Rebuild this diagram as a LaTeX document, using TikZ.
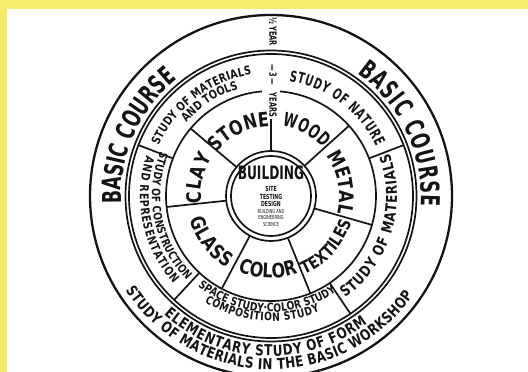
\documentclass[tikz,border=0pt]{standalone}
\usepackage{fontspec}
\usepackage{tikz}
\usetikzlibrary{decorations.text}
\newfontfamily\lettering{DejaVu Sans}[FakeStretch=0.66]
\newfontfamily\letteringwide{DejaVu Sans}[FakeStretch=0.8]
\definecolor{my_yellow}{HTML}{F6EC6C}
\definecolor{my_ink}{HTML}{141414}
\newcommand\fntHuge{\color{my_ink}\lettering\bfseries\fontsize{26}{26}\selectfont}
\newcommand\fntBig{\color{my_ink}\letteringwide\bfseries\fontsize{20}{20}\selectfont}
\newcommand\fntBigish{\color{my_ink}\letteringwide\bfseries\fontsize{17}{17}\selectfont}
\newcommand\fntBigCond{\color{my_ink}\lettering\bfseries\fontsize{19}{19}\selectfont}
\newcommand\fntMid{\color{my_ink}\lettering\bfseries\fontsize{15}{15}\selectfont}
\newcommand\fntMidWide{\color{my_ink}\letteringwide\bfseries\fontsize{15}{15}\selectfont}
\newcommand\fntSmall{\color{my_ink}\letteringwide\bfseries\fontsize{12}{12}\selectfont}
\newcommand\fntSmaller{\color{my_ink}\letteringwide\bfseries\fontsize{11.5}{11.5}\selectfont}
\newcommand\fntAxis{\lettering\bfseries\fontsize{10}{10}\selectfont}
\newcommand\fntBuild{\lettering\bfseries\fontsize{18.5}{18.5}\selectfont}
\newcommand\fntSub{\lettering\bfseries\fontsize{7}{7}\selectfont}
\newcommand\fntFine{\lettering\fontsize{5.5}{5.5}\selectfont}

\begin{document}
\begin{tikzpicture}[x=1pt, y=1pt,
    ringline/.style={draw=my_ink, line width=1.7pt},
    rimline/.style={draw=my_ink, line width=2.3pt},
    arctext/.style={decorate, decoration={text along path,
        text align=fit to path, text={#1}}},
    axislabel/.style={rotate=-90, inner sep=0pt, text=my_ink, font=\fntAxis},
    hublabel/.style={inner sep=0pt, text=my_ink}
]
\useasboundingbox (0,0) rectangle (528,372);

%% ---- Frame ----
\fill[my_yellow] (0,0) rectangle (528,372);
\fill[white] (7,0) rectangle (528,363);

\begin{scope}
\clip (7,0) rectangle (528,363);
\begin{scope}[shift={(271,176)}]
\coordinate (hub) at (0,0);

%% ---- Circles ----
\draw[rimline] (hub) circle[radius=181];
\draw[ringline] (hub) circle[radius=145.5];
\draw[ringline] (hub) circle[radius=142];
\draw[ringline] (95:105) arc[start angle=95, end angle=445, radius=105];
\draw[ringline] (hub) circle[radius=45];
\draw[ringline] (hub) circle[radius=40];

%% ---- Dividers: workshop ring ----
\foreach \a in {42, -16, -68, -118, -174, 140} {
    \draw[ringline] (\a:45) -- (\a:105);
}
\draw[ringline] (90:45) -- (90:77);

%% ---- Dividers: study ring ----
\foreach \a in {21, -56, -133, 159} {
    \draw[ringline] (\a:105) -- (\a:142);
}

%% ---- Outer ring ----
\path[arctext={|\fntHuge|BASIC COURSE}]
    (183:150) arc[start angle=183, end angle=130, radius=150];
\path[arctext={|\fntHuge|BASIC COURSE}]
    (55:150) arc[start angle=55, end angle=-4, radius=150];
\path[arctext={|\fntMidWide|ELEMENTARY STUDY OF FORM}]
    (-132:160) arc[start angle=-132, end angle=-53, radius=160];
\path[arctext={|\fntMidWide|STUDY OF MATERIALS IN THE BASIC WORKSHOP}]
    (-147:173.5) arc[start angle=-147, end angle=-35, radius=173.5];

%% ---- Study ring ----
\path[arctext={|\fntSmall|STUDY OF MATERIALS}]
    (156:123) arc[start angle=156, end angle=99, radius=123];
\path[arctext={|\fntSmall|AND TOOLS}]
    (139:112) arc[start angle=139, end angle=108, radius=112];
\path[arctext={|\fntMid|STUDY OF NATURE}]
    (81:116) arc[start angle=81, end angle=25, radius=116];
\path[arctext={|\fntMidWide|STUDY OF MATERIALS}]
    (-54:126) arc[start angle=-54, end angle=20, radius=126];
\path[arctext={|\fntSmaller|SPACE STUDY·COLOR STUDY}]
    (-129:116) arc[start angle=-129, end angle=-57, radius=116];
\path[arctext={|\fntSmaller|COMPOSITION STUDY}]
    (-122:125) arc[start angle=-122, end angle=-67, radius=125];
\path[arctext={|\fntSmaller|STUDY OF CONSTRUCTION}]
    (158:119) arc[start angle=158, end angle=225, radius=119];
\path[arctext={|\fntSmall|AND REPRESENTATION}]
    (162:131) arc[start angle=162, end angle=222, radius=131];

%% ---- Workshop ring ----
\path[arctext={|\fntBig|STONE}]
    (141:69.5) arc[start angle=141, end angle=92, radius=69.5];
\path[arctext={|\fntBigCond|WOOD}]
    (81:71) arc[start angle=81, end angle=43, radius=71];
\path[arctext={|\fntBig|METAL}]
    (36:68.5) arc[start angle=36, end angle=-13, radius=68.5];
\path[arctext={|\fntBigish|TEXTILES}]
    (-67:85) arc[start angle=-67, end angle=-18, radius=85];
\path[arctext={|\fntBig|COLOR}]
    (-114:82) arc[start angle=-114, end angle=-71, radius=82];
\path[arctext={|\fntBig|GLASS}]
    (-164:84.5) arc[start angle=-164, end angle=-121, radius=84.5];
\path[arctext={|\fntBig|CLAY}]
    (186:70) arc[start angle=186, end angle=147, radius=70];

%% ---- Time axis ----
\node[axislabel] (halfyear) at (2,164.5) {½ YEAR};
\node[axislabel] (three) at (2,121) {—\,3\,—};
\node[axislabel] (years) at (2,91) {YEARS};

%% ---- Hub ----
\node[hublabel, font=\fntBuild] (building) at (0,23) {BUILDING};
\node[hublabel, font=\fntSub] (site) at (0,7) {SITE};
\node[hublabel, font=\fntSub] (testing) at (0,-1) {TESTING};
\node[hublabel, font=\fntSub] (design) at (0,-8) {DESIGN};
\node[hublabel, font=\fntFine] (buildsci) at (0,-16) {BUILDING AND};
\node[hublabel, font=\fntFine] (engsci) at (0,-22) {ENGINEERING};
\node[hublabel, font=\fntFine] (science) at (0,-29) {SCIENCE};

\end{scope}
\end{scope}
\end{tikzpicture}
\end{document}
